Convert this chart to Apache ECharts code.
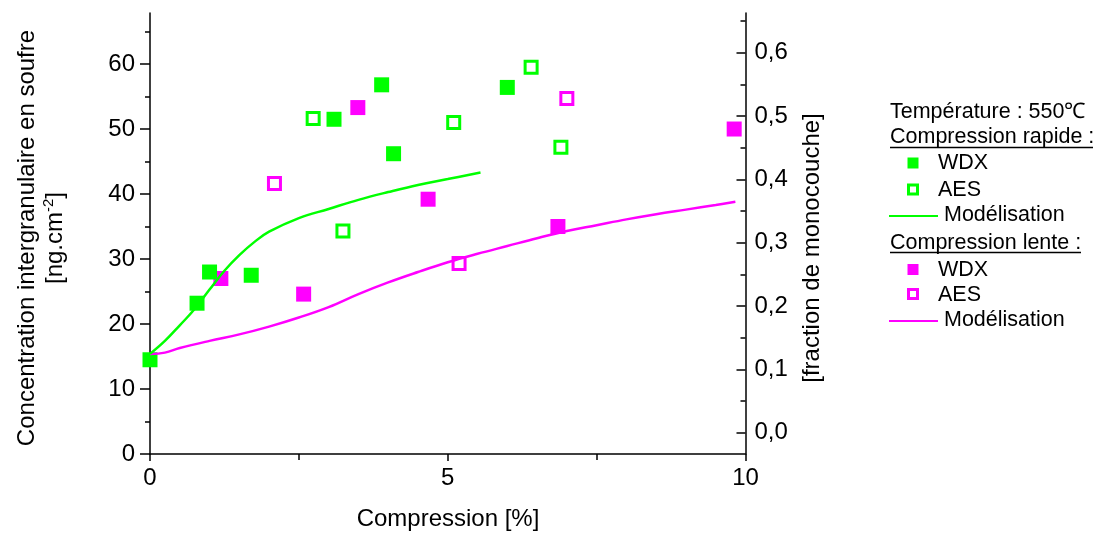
<!DOCTYPE html>
<html>
<head>
<meta charset="utf-8">
<script src="https://cdn.jsdelivr.net/npm/echarts@6/dist/echarts.min.js"></script>
<style>
html,body{margin:0;padding:0;background:#fff;}
#chart{width:1098px;height:535px;}
</style>
</head>
<body>
<div id="chart"></div>
<script>
// ---- Data ----
// Compression rapide : WDX (filled green squares)
const rapideWdxX = [0, 0.79, 1.0, 1.70, 3.09, 3.89, 4.09, 6.0];
const rapideWdxY = [14.5, 23.2, 28.0, 27.5, 51.5, 56.8, 46.2, 56.4];
// Compression rapide : AES (open green squares)
const rapideAesX = [2.74, 3.24, 5.10, 6.40, 6.90];
const rapideAesY = [51.6, 34.3, 51.0, 59.5, 47.2];
// Compression rapide : Modélisation (green line)
const rapideModX = [0, 0.25, 0.5, 0.75, 1.0, 1.25, 1.5, 1.75, 2.0, 2.5, 3.0, 3.5, 4.0, 4.5, 5.0, 5.55];
const rapideModY = [15.4, 17.4, 19.8, 22.3, 25.3, 28.2, 30.6, 32.6, 34.2, 36.3, 37.7, 39.1, 40.3, 41.4, 42.3, 43.3];
// Compression lente : WDX (filled magenta squares)
const lenteWdxX = [1.19, 2.58, 3.49, 4.67, 6.85, 9.81];
const lenteWdxY = [27.0, 24.6, 53.3, 39.2, 35.0, 50.0];
// Compression lente : AES (open magenta squares)
const lenteAesX = [2.09, 5.19, 7.0];
const lenteAesY = [41.6, 29.3, 54.7];
// Compression lente : Modélisation (magenta line)
const lenteModX = [0, 0.25, 0.5, 1.0, 1.5, 2.0, 2.5, 3.0, 3.5, 4.0, 4.5, 5.0, 5.5, 6.0, 6.5, 7.0, 7.5, 8.0, 8.5, 9.0, 9.5, 9.83];
const lenteModY = [15.4, 15.6, 16.3, 17.4, 18.4, 19.6, 21.0, 22.6, 24.6, 26.4, 28.0, 29.5, 30.8, 32.0, 33.2, 34.3, 35.2, 36.1, 36.9, 37.6, 38.3, 38.8];

// Axis ticks / labels
const xTicks = [0, 5, 10];
const leftTicks = [0, 10, 20, 30, 40, 50, 60];
const leftMinorTicks = [5, 15, 25, 35, 45, 55, 65];
const rightTicks = [0, 0.1, 0.2, 0.3, 0.4, 0.5, 0.6];
const rightTickLabels = ['0,0', '0,1', '0,2', '0,3', '0,4', '0,5', '0,6'];
const rightMinorTicks = [0.05, 0.15, 0.25, 0.35, 0.45, 0.55, 0.65];

// Texts
const xTitle = 'Compression [%]';
const yTitleLine1 = 'Concentration intergranulaire en soufre';
const yTitleLine2a = '[ng.cm';
const yTitleSup = '-2';
const yTitleLine2b = ']';
const y2Title = '[fraction de monocouche]';
const legendTitle = 'Température : 550℃';
const legendGroup1 = 'Compression rapide :';
const legendGroup2 = 'Compression lente :';
const legendWdx = 'WDX';
const legendAes = 'AES';
const legendMod = 'Modélisation';

const GREEN = '#00FF00';
const MAGENTA = '#FF00FF';
const FONT = 'Liberation Sans, Arial, sans-serif';

function pairs(xs, ys){ return xs.map((x,i)=>[x, ys[i]]); }

const chart = echarts.init(document.getElementById('chart'), null, {renderer:'canvas'});

const axisBlack = {color:'#000', width:1.5};
// axis ranges (left: concentration, right: monolayer fraction)
const Y_MIN = 0, Y_MAX = 67.85;
const R_MIN = -0.0336, R_MAX = 0.6627;

const labelStyle = {fontSize:24, color:'#000', fontFamily:FONT};

const option = {
  animation:false,
  backgroundColor:'#fff',
  grid:[{left:150, top:13, width:595.5, height:441}],
  xAxis:[
    {type:'value', min:0, max:10, interval:5,
     axisLine:{show:true, onZero:false, lineStyle:axisBlack},
     axisTick:{show:true, inside:false, length:7, lineStyle:axisBlack},
     minorTick:{show:true, splitNumber:2, length:6, lineStyle:axisBlack},
     splitLine:{show:false}, minorSplitLine:{show:false},
     axisLabel:Object.assign({show:true, margin:12,
       formatter:(v)=> xTicks.includes(v) ? String(v) : ''}, labelStyle)}
  ],
  yAxis:[
    {type:'value', min:Y_MIN, max:Y_MAX, position:'left',
     axisLine:{show:true, onZero:false, lineStyle:axisBlack},
     axisTick:{show:true, inside:false, length:10, lineStyle:axisBlack, customValues:leftTicks},
     splitLine:{show:false},
     axisLabel:Object.assign({show:true, margin:15, customValues:leftTicks,
       formatter:(v)=> String(v)}, labelStyle)},
    {type:'value', min:R_MIN, max:R_MAX, position:'right',
     axisLine:{show:true, onZero:false, lineStyle:axisBlack},
     axisTick:{show:true, inside:true, length:9, lineStyle:axisBlack, customValues:rightTicks},
     splitLine:{show:false},
     axisLabel:Object.assign({show:true, margin:9, customValues:rightTicks,
       formatter:(v)=>{ const i = rightTicks.findIndex(t=>Math.abs(t-v)<1e-6); return i>=0 ? rightTickLabels[i] : ''; }}, labelStyle)},
    {type:'value', min:Y_MIN, max:Y_MAX, position:'left',
     axisLine:{show:false, onZero:false},
     axisTick:{show:true, inside:false, length:5, lineStyle:axisBlack, customValues:leftMinorTicks},
     splitLine:{show:false}, axisLabel:{show:false}},
    {type:'value', min:R_MIN, max:R_MAX, position:'right',
     axisLine:{show:false, onZero:false},
     axisTick:{show:true, inside:true, length:5, lineStyle:axisBlack, customValues:rightMinorTicks},
     splitLine:{show:false}, axisLabel:{show:false}}
  ],
  series:[
    {name:'lenteWDX', type:'scatter', yAxisIndex:0, symbol:'rect', symbolSize:15,
     itemStyle:{color:MAGENTA, opacity:1}, data:pairs(lenteWdxX, lenteWdxY)},
    {name:'lenteAES', type:'scatter', yAxisIndex:0, symbol:'rect', symbolSize:12,
     itemStyle:{color:'#fff', borderColor:MAGENTA, borderWidth:3, opacity:1}, data:pairs(lenteAesX, lenteAesY)},
    {name:'rapideWDX', type:'scatter', yAxisIndex:0, symbol:'rect', symbolSize:15,
     itemStyle:{color:GREEN, opacity:1}, data:pairs(rapideWdxX, rapideWdxY)},
    {name:'rapideAES', type:'scatter', yAxisIndex:0, symbol:'rect', symbolSize:12,
     itemStyle:{color:'#fff', borderColor:GREEN, borderWidth:3, opacity:1}, data:pairs(rapideAesX, rapideAesY)},
    {name:'lenteMod', type:'line', yAxisIndex:0, showSymbol:false, smooth:0.4,
     lineStyle:{color:MAGENTA, width:2.5}, itemStyle:{color:MAGENTA}, data:pairs(lenteModX, lenteModY)},
    {name:'rapideMod', type:'line', yAxisIndex:0, showSymbol:false, smooth:0.4,
     lineStyle:{color:GREEN, width:2.5}, itemStyle:{color:GREEN}, data:pairs(rapideModX, rapideModY)}
  ],
  graphic:[
    {type:'text', x:41, y:238, rotation:Math.PI/2,
     style:{text:'{a|'+yTitleLine1+'}\n{a|'+yTitleLine2a+'}{s|'+yTitleSup+'}{a|'+yTitleLine2b+'}',
       align:'center', verticalAlign:'middle',
       rich:{a:{fontSize:24, fontFamily:FONT, fill:'#000', lineHeight:28},
             s:{fontSize:15, fontFamily:FONT, fill:'#000', lineHeight:28, verticalAlign:'top', padding:[0,0,8,0]}}}},
    {type:'text', x:812, y:248, rotation:Math.PI/2,
     style:{text:y2Title, font:'24px '+FONT, fill:'#000', align:'center', verticalAlign:'middle'}},
    {type:'text', x:448, y:519,
     style:{text:xTitle, font:'24px '+FONT, fill:'#000', align:'center', verticalAlign:'middle'}},
    // legend
    {type:'text', x:890, y:112, style:{text:legendTitle, font:'21.5px '+FONT, fill:'#000', align:'left', verticalAlign:'middle'}},
    {type:'text', x:890, y:137, style:{text:legendGroup1, font:'21.5px '+FONT, fill:'#000', align:'left', verticalAlign:'middle'}},
    {type:'line', shape:{x1:890, y1:147.5, x2:1093, y2:147.5}, style:{stroke:'#000', lineWidth:1.5}},
    {type:'rect', shape:{x:907.5, y:157.5, width:11, height:11}, style:{fill:GREEN}},
    {type:'text', x:938, y:163.5, style:{text:legendWdx, font:'21.5px '+FONT, fill:'#000', align:'left', verticalAlign:'middle'}},
    {type:'rect', shape:{x:908.5, y:185, width:9, height:9}, style:{fill:'#fff', stroke:GREEN, lineWidth:3}},
    {type:'text', x:938, y:190, style:{text:legendAes, font:'21.5px '+FONT, fill:'#000', align:'left', verticalAlign:'middle'}},
    {type:'line', shape:{x1:889, y1:216, x2:938, y2:216}, style:{stroke:GREEN, lineWidth:2}},
    {type:'text', x:944, y:215, style:{text:legendMod, font:'21.5px '+FONT, fill:'#000', align:'left', verticalAlign:'middle'}},
    {type:'text', x:890, y:243, style:{text:legendGroup2, font:'21.5px '+FONT, fill:'#000', align:'left', verticalAlign:'middle'}},
    {type:'line', shape:{x1:890, y1:252.5, x2:1081, y2:252.5}, style:{stroke:'#000', lineWidth:1.5}},
    {type:'rect', shape:{x:907.5, y:264, width:11, height:11}, style:{fill:MAGENTA}},
    {type:'text', x:938, y:270, style:{text:legendWdx, font:'21.5px '+FONT, fill:'#000', align:'left', verticalAlign:'middle'}},
    {type:'rect', shape:{x:908.5, y:289.5, width:9, height:9}, style:{fill:'#fff', stroke:MAGENTA, lineWidth:3}},
    {type:'text', x:938, y:295, style:{text:legendAes, font:'21.5px '+FONT, fill:'#000', align:'left', verticalAlign:'middle'}},
    {type:'line', shape:{x1:889, y1:321, x2:938, y2:321}, style:{stroke:MAGENTA, lineWidth:2}},
    {type:'text', x:944, y:320, style:{text:legendMod, font:'21.5px '+FONT, fill:'#000', align:'left', verticalAlign:'middle'}}
  ]
};
chart.setOption(option);
</script>
</body>
</html>
